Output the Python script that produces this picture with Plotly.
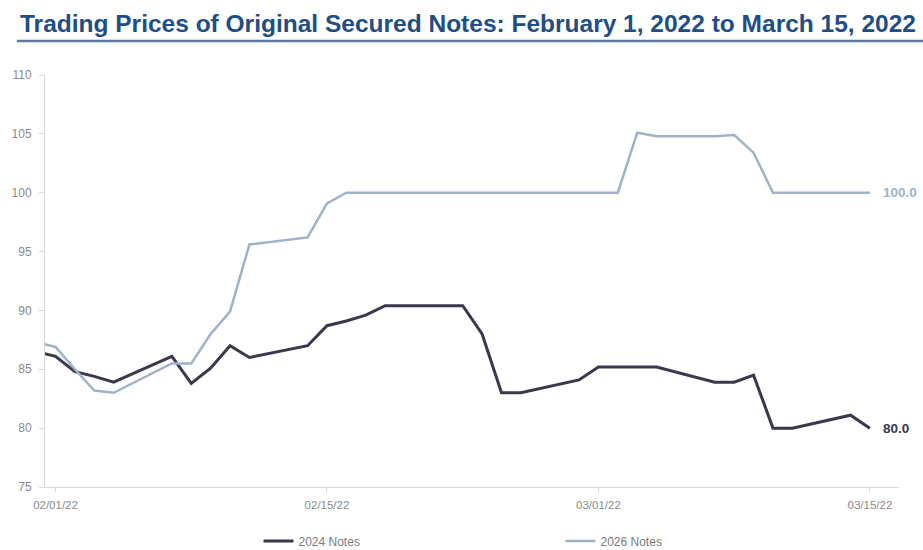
import plotly.graph_objects as go

# ---- data ----
dates = ["2022-01-31", "2022-02-01", "2022-02-02", "2022-02-03", "2022-02-04",
         "2022-02-07", "2022-02-08", "2022-02-09", "2022-02-10", "2022-02-11",
         "2022-02-14", "2022-02-15", "2022-02-16", "2022-02-17", "2022-02-18",
         "2022-02-22", "2022-02-23", "2022-02-24", "2022-02-25", "2022-02-28",
         "2022-03-01", "2022-03-02", "2022-03-03", "2022-03-04", "2022-03-07",
         "2022-03-08", "2022-03-09", "2022-03-10", "2022-03-11", "2022-03-14",
         "2022-03-15"]

notes_2024 = [86.5, 86.1, 84.8, 84.4, 83.9,
              86.1, 83.8, 85.1, 87.0, 86.0,
              87.0, 88.7, 89.1, 89.6, 90.4,
              90.4, 88.0, 83.0, 83.0, 84.1,
              85.2, 85.2, 85.2, 85.2, 83.9,
              83.9, 84.5, 80.0, 80.0, 81.1,
              80.0]

notes_2026 = [87.3, 86.9, 85.0, 83.2, 83.0,
              85.5, 85.5, 88.0, 89.9, 95.6,
              96.2, 99.1, 100.0, 100.0, 100.0,
              100.0, 100.0, 100.0, 100.0, 100.0,
              100.0, 100.0, 105.1, 104.8, 104.8,
              104.9, 103.4, 100.0, 100.0, 100.0,
              100.0]

series_names = ["2024 Notes", "2026 Notes"]
x_tick_vals = ["2022-02-01", "2022-02-15", "2022-03-01", "2022-03-15"]
x_tick_text = ["02/01/22", "02/15/22", "03/01/22", "03/15/22"]
y_tick_vals = [75, 80, 85, 90, 95, 100, 105, 110]

title_text = "Trading Prices of Original Secured Notes: February 1, 2022 to March 15, 2022"

DARK = "#3b384d"
LIGHT = "#9fb2ca"
FONT = "Liberation Sans, Arial, sans-serif"

fig = go.Figure()
fig.add_trace(go.Scatter(x=dates, y=notes_2024, mode="lines", name=series_names[0],
                         line=dict(color=DARK, width=3)))
fig.add_trace(go.Scatter(x=dates, y=notes_2026, mode="lines", name=series_names[1],
                         line=dict(color=LIGHT, width=2.5)))

# end-of-series value labels
fig.add_annotation(x=dates[-1], y=notes_2026[-1], text=f"<b>{notes_2026[-1]:.1f}</b>",
                   showarrow=False, xanchor="left", xshift=11,
                   font=dict(family=FONT, size=13.5, color=LIGHT))
fig.add_annotation(x=dates[-1], y=notes_2024[-1], text=f"<b>{notes_2024[-1]:.1f}</b>",
                   showarrow=False, xanchor="left", xshift=11,
                   font=dict(family=FONT, size=13.5, color=DARK))

# title underline
fig.add_shape(type="line", xref="paper", yref="paper",
              x0=-0.033, x1=1.03, y0=1.0825, y1=1.0825,
              line=dict(color="#5a78a0", width=2.5))

fig.update_layout(
    width=923, height=550,
    margin=dict(l=43, r=24, t=75, b=63),
    paper_bgcolor="white", plot_bgcolor="white",
    title=dict(text=f"<b>{title_text}</b>", x=0.507, xanchor="center",
               y=1 - 23 / 550, yanchor="middle", yref="container",
               font=dict(family=FONT, size=24.5, color="#1f4e85")),
    showlegend=True,
    legend=dict(orientation="h", x=0.25, xanchor="left",
                yref="container", y=9 / 550, yanchor="middle",
                font=dict(family=FONT, size=12, color="#7a7a7a"),
                itemwidth=30, entrywidth=257, entrywidthmode="pixels",
                bgcolor="rgba(0,0,0,0)"),
    xaxis=dict(type="date", range=["2022-01-31 11:00", "2022-03-16 12:00"],
               tickmode="array", tickvals=x_tick_vals, ticktext=x_tick_text,
               showgrid=False, zeroline=False, showline=True, linecolor="#d9d9d9",
               linewidth=1, ticks="outside", ticklen=4, tickcolor="#d9d9d9",
               ticklabelstandoff=3,
               tickfont=dict(family=FONT, size=11.5, color="#8a8a8a")),
    yaxis=dict(range=[75, 110], tickmode="array", tickvals=y_tick_vals,
               showgrid=False, zeroline=False, showline=True, linecolor="#d9d9d9",
               linewidth=1, ticks="outside", ticklen=5, tickcolor="#d9d9d9",
               ticklabelstandoff=5,
               tickfont=dict(family=FONT, size=12, color="#8a8a8a")),
)

fig.write_html("out.html")
